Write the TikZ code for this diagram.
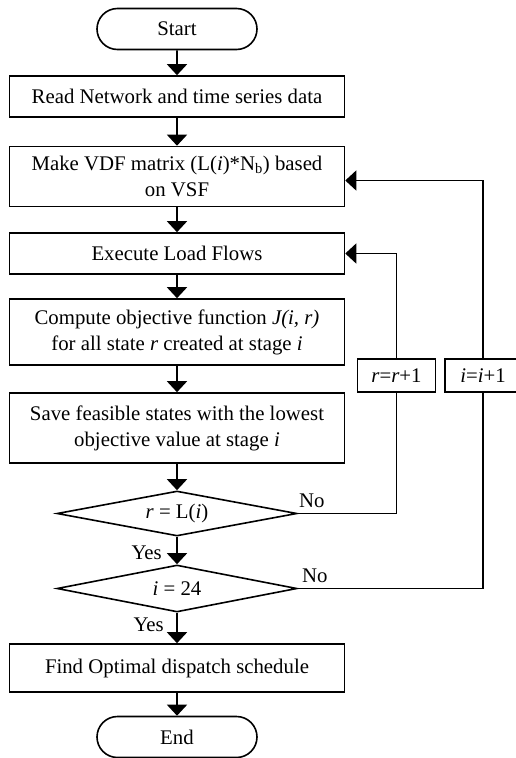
\documentclass[tikz,border=0pt]{standalone}
\usepackage{fontspec}
\setmainfont{Liberation Serif}
\usetikzlibrary{arrows.meta,shapes.geometric,shapes.misc}
\begin{document}
\begin{tikzpicture}[x=1pt,y=-1pt,
  every node/.style={font=\fontsize{20.8}{26}\selectfont, inner sep=0pt},
  box/.style={draw, line width=1.6pt, minimum width=335pt, align=center},
  term/.style={draw, rounded rectangle, line width=1.6pt, minimum width=160pt, minimum height=41pt},
  dec/.style={draw, diamond, line width=1.6pt, minimum width=240pt, aspect=5},
  smallbox/.style={draw, line width=1.6pt, minimum height=33pt},
  flow/.style={line width=1.6pt, -{Triangle[length=11pt,width=20pt]}},
  link/.style={line width=1.6pt}]
\useasboundingbox (0,0) rectangle (516,758);
\node[term] (start) at (177,29) {Start};
\node[box, minimum height=41pt] (read) at (177,96.5) {Read Network and time series data};
\node[box, minimum height=60pt] (vdf) at (177,176.5) {Make VDF matrix (L(\textit{i})*N\textsubscript{b}) based\\on VSF};
\node[box, minimum height=41pt] (exec) at (177,253.5) {Execute Load Flows};
\node[box, minimum height=66pt] (comp) at (177,332) {Compute objective function \textit{J(i, r)}\\for all state \textit{r} created at stage \textit{i}};
\node[box, minimum height=70pt] (save) at (177,428) {Save feasible states with the lowest\\objective value at stage \textit{i}};
\node[dec, minimum height=45pt] (d1) at (177,513.5) {\textit{r} = L(\textit{i})};
\node[dec, minimum height=47pt] (d2) at (177,588.5) {\textit{i} = 24};
\node[box, minimum height=48pt] (find) at (177,668) {Find Optimal dispatch schedule};
\node[term] (end) at (177,737) {End};
\node[smallbox, minimum width=78pt] (rbox) at (396.5,375.5) {\textit{r}=\textit{r}+1};
\node[smallbox, minimum width=76pt] (ibox) at (483,375.5) {\textit{i}=\textit{i}+1};
\node[anchor=base west] (no1) at (299,507) {No};
\node[anchor=base west] (no2) at (302,582) {No};
\node[anchor=base east] (yes1) at (162,559) {Yes};
\node[anchor=base east] (yes2) at (164,631) {Yes};
\draw[flow] (start) -- (read);
\draw[flow] (read) -- (vdf);
\draw[flow] (vdf) -- (exec);
\draw[flow] (exec) -- (comp);
\draw[flow] (comp) -- (save);
\draw[flow] (save) -- (d1);
\draw[flow] (d1) -- (d2);
\draw[flow] (d2) -- (find);
\draw[flow] (find) -- (end);
\draw[link] (d1.east) -| (rbox.south);
\draw[flow] (rbox.north) |- (exec.east);
\draw[link] (d2.east) -| (ibox.south);
\draw[flow] (ibox.north) |- ([yshift=-4pt]vdf.east);
\end{tikzpicture}
\end{document}
